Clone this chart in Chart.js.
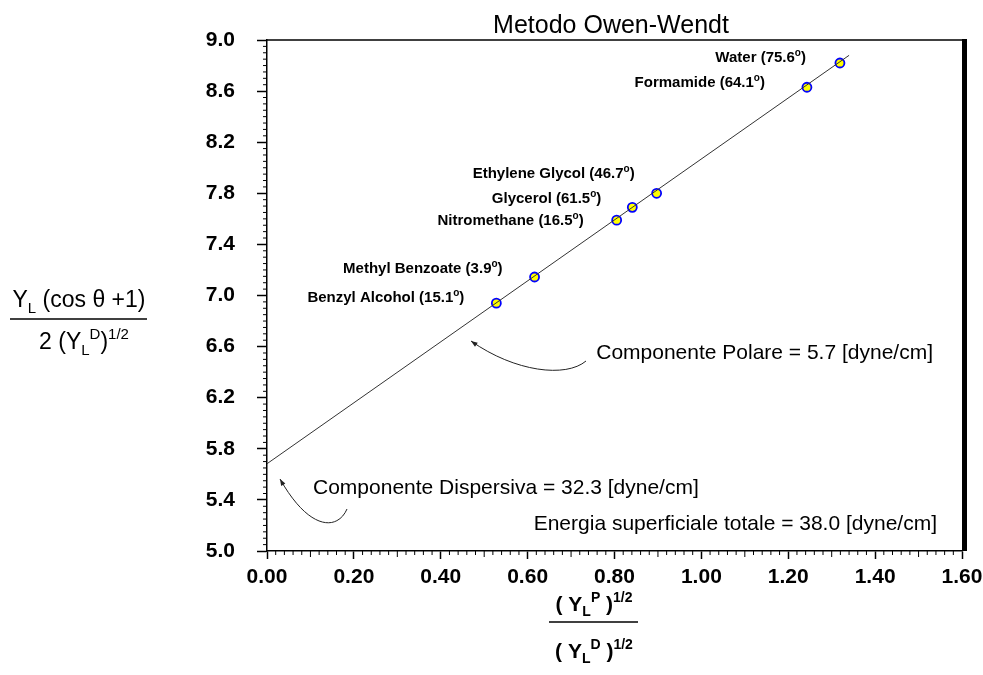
<!DOCTYPE html>
<html>
<head>
<meta charset="utf-8">
<script src="https://cdn.jsdelivr.net/npm/chart.js@4.4.0/dist/chart.umd.min.js"></script>
<style>
  html, body { margin: 0; padding: 0; background: #fff; }
</style>
</head>
<body>
<canvas id="chart" width="983" height="675"></canvas>
<script>
// data
const liquids = ['Benzyl Alcohol', 'Methyl Benzoate', 'Nitromethane', 'Glycerol', 'Ethylene Glycol', 'Formamide', 'Water']
const angles = ['15.1', '3.9', '16.5', '61.5', '46.7', '64.1', '75.6']
const xVals = [0.528, 0.616, 0.805, 0.841, 0.897, 1.243, 1.319]
const yVals = [6.94, 7.145, 7.59, 7.69, 7.80, 8.63, 8.82]
const fitX = [0, 1.34]
const fitY = [5.683, 8.88]
const xTicks = [0, 0.2, 0.4, 0.6, 0.8, 1.0, 1.2, 1.4, 1.6]
const yTicks = [5.0, 5.4, 5.8, 6.2, 6.6, 7.0, 7.4, 7.8, 8.2, 8.6, 9.0]
const polare = 'Componente Polare = 5.7 [dyne/cm]'
const dispersiva = 'Componente Dispersiva = 32.3 [dyne/cm]'
const totale = 'Energia superficiale totale = 38.0 [dyne/cm]'

// label placement relative to each point (px): right end, vertical shift
const labelOffsets = [[-32, -6], [-32, -9], [-33, 0], [-31, -9], [-22, -20], [-42, -5], [-34, -6]]

const FONT = 'Liberation Sans, Arial, sans-serif'

// draws text made of pieces: [text, ''|'sub'|'sup']
const rich = (ctx, parts, x, y, align, size, weight) => {
    const w = weight || 'normal'
    const fontFor = mode => `${w} ${mode ? Math.round(size * 0.65) : size}px ${FONT}`
    let total = 0
    parts.forEach(p => {
        ctx.font = fontFor(p[1])
        total += ctx.measureText(p[0]).width
    })
    let cx = align === 'right' ? x - total : align === 'center' ? x - total / 2 : x
    ctx.textAlign = 'left'
    ctx.textBaseline = 'alphabetic'
    parts.forEach(p => {
        ctx.font = fontFor(p[1])
        let dy = 0
        if (p[1] === 'sub') dy = size * 0.25
        if (p[1] === 'sup') dy = -size * 0.42
        ctx.fillText(p[0], cx, y + dy)
        cx += ctx.measureText(p[0]).width
    })
    return total
}

const arrow = (ctx, pts) => {
    const [s, c1, c2, e] = pts
    ctx.beginPath()
    ctx.moveTo(s[0], s[1])
    ctx.bezierCurveTo(c1[0], c1[1], c2[0], c2[1], e[0], e[1])
    ctx.stroke()
    const ang = Math.atan2(e[1] - c2[1], e[0] - c2[0])
    const len = 7
    ctx.beginPath()
    ctx.moveTo(e[0], e[1])
    ctx.lineTo(e[0] - len * Math.cos(ang - 0.35), e[1] - len * Math.sin(ang - 0.35))
    ctx.lineTo(e[0] - len * Math.cos(ang + 0.35), e[1] - len * Math.sin(ang + 0.35))
    ctx.closePath()
    ctx.fill()
}

const decor = {
    id: 'decor',
    afterDraw(chart) {
        const ctx = chart.ctx
        const a = chart.chartArea
        const xs = chart.scales.x
        const ys = chart.scales.y
        ctx.save()
        ctx.strokeStyle = '#000'
        ctx.fillStyle = '#000'

        // frame: top line and heavy right edge
        ctx.lineWidth = 1.5
        ctx.beginPath()
        ctx.moveTo(a.left, a.top)
        ctx.lineTo(a.right, a.top)
        ctx.stroke()
        ctx.fillRect(a.right, a.top - 1, 5, a.bottom - a.top + 1)

        // minor ticks
        ctx.lineWidth = 1
        for (let i = 1; i < 80; i++) {
            if (i % 10 === 0) continue
            const px = xs.getPixelForValue(i * 0.02)
            ctx.beginPath()
            ctx.moveTo(px, a.bottom)
            ctx.lineTo(px, a.bottom + (i % 5 === 0 ? 6 : 4))
            ctx.stroke()
        }
        for (let i = 1; i < 80; i++) {
            if (i % 8 === 0) continue
            const py = ys.getPixelForValue(5 + i * 0.05)
            ctx.beginPath()
            ctx.moveTo(a.left, py)
            ctx.lineTo(a.left - 4, py)
            ctx.stroke()
        }

        // point labels
        liquids.forEach((name, i) => {
            const px = xs.getPixelForValue(xVals[i]) + labelOffsets[i][0]
            const py = ys.getPixelForValue(yVals[i]) + labelOffsets[i][1] + 5
            rich(ctx, [[name + ' (' + angles[i], ''], ['o', 'sup'], [')', '']], px, py, 'right', 15, 'bold')
        })

        // title
        ctx.fillStyle = '#000'
        ctx.font = `25px ${FONT}`
        ctx.textAlign = 'center'
        ctx.textBaseline = 'alphabetic'
        ctx.fillText('Metodo Owen-Wendt', 611, 33)

        // annotations
        rich(ctx, [[polare, '']], 933, 359, 'right', 21)
        rich(ctx, [[dispersiva, '']], 313, 494, 'left', 21)
        rich(ctx, [[totale, '']], 937, 530, 'right', 21)

        ctx.lineWidth = 1
        ctx.strokeStyle = '#222'
        ctx.fillStyle = '#222'
        arrow(ctx, [[586, 361], [566, 378], [515, 372], [471, 341]])
        arrow(ctx, [[347, 509], [338, 530], [310, 532], [280, 479]])

        // y axis title (fraction)
        ctx.fillStyle = '#000'
        ctx.strokeStyle = '#000'
        rich(ctx, [['Y', ''], ['L', 'sub'], [' (cos \u03b8 +1)', '']], 79, 307, 'center', 23)
        ctx.lineWidth = 1.5
        ctx.beginPath()
        ctx.moveTo(10, 319)
        ctx.lineTo(147, 319)
        ctx.stroke()
        rich(ctx, [['2 (Y', ''], ['L', 'sub'], ['D', 'sup'], [')', ''], ['1/2', 'sup']], 84, 349, 'center', 23)

        // x axis title (fraction)
        rich(ctx, [['( Y', ''], ['L', 'sub'], ['P', 'sup'], [' )', ''], ['1/2', 'sup']], 594, 611, 'center', 21, 'bold')
        ctx.beginPath()
        ctx.moveTo(549, 622)
        ctx.lineTo(638, 622)
        ctx.stroke()
        rich(ctx, [['( Y', ''], ['L', 'sub'], ['D', 'sup'], [' )', ''], ['1/2', 'sup']], 594, 658, 'center', 21, 'bold')
        ctx.restore()
    }
}

const fitData = fitX.map((x, i) => ({ x: x, y: fitY[i] }))
const pointData = xVals.map((x, i) => ({ x: x, y: yVals[i] }))

const tickFont = { family: FONT, size: 21, weight: 'bold' }

// keep the plot box where the reference has it, whatever the labels ask for
const pinScale = (s, size) => {
    if (s.isHorizontal()) s.height = size
    else s.width = size
    s.paddingLeft = 0
    s.paddingRight = 0
    s.paddingTop = 0
    s.paddingBottom = 0
}

const myChart = new Chart(document.getElementById('chart'), {
    type: 'scatter',
    data: {
        datasets: [{
            label: 'fit',
            data: fitData,
            showLine: true,
            borderColor: '#333',
            borderWidth: 1,
            pointRadius: 0,
            order: 0
        }, {
            label: 'liquids',
            data: pointData,
            backgroundColor: '#ffff00',
            borderColor: '#0000ff',
            borderWidth: 1.8,
            pointRadius: 4.5,
            order: 1
        }]
    },
    options: {
        responsive: false,
        animation: false,
        layout: { padding: { top: 40, right: 21, bottom: 0, left: 0 } },
        plugins: { legend: { display: false }, tooltip: { enabled: false } },
        scales: {
            x: {
                type: 'linear',
                min: 0,
                max: 1.6,
                afterFit: s => pinScale(s, 124),
                afterBuildTicks: s => { s.ticks = xTicks.map(v => ({ value: v })) },
                grid: { drawOnChartArea: false, tickLength: 8, tickColor: '#000', tickWidth: 1.5 },
                border: { color: '#000', width: 1.5 },
                ticks: { color: '#000', font: tickFont, padding: 6, maxRotation: 0, autoSkip: false, callback: v => v.toFixed(2) }
            },
            y: {
                type: 'linear',
                min: 5,
                max: 9,
                afterFit: s => pinScale(s, 267),
                afterBuildTicks: s => { s.ticks = yTicks.map(v => ({ value: v })) },
                grid: { drawOnChartArea: false, tickLength: 10, tickColor: '#000', tickWidth: 1.5 },
                border: { color: '#000', width: 1.5 },
                ticks: { color: '#000', font: tickFont, padding: 22, autoSkip: false, callback: v => v.toFixed(1) }
            }
        }
    },
    plugins: [decor]
})
</script>
</body>
</html>
